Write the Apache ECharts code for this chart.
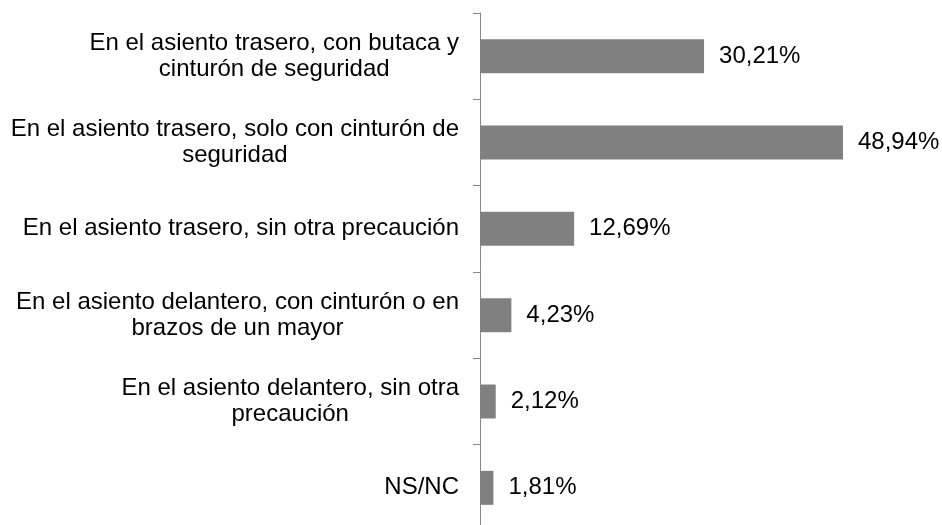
<!DOCTYPE html>
<html>
<head>
<meta charset="utf-8">
<script src="https://cdn.jsdelivr.net/npm/echarts@6/dist/echarts.min.js"></script>
<style>
  html, body { margin: 0; padding: 0; background: #fff; }
  #chartDiv { width: 942px; height: 525px; }
</style>
</head>
<body>
<div id="chartDiv"></div>
<script>
// 初始化图表
var myChart = echarts.init(document.getElementById('chartDiv'));
window.onresize = myChart.resize;

// 数据
var categories = [
    'En el asiento trasero, con butaca y\ncinturón de seguridad',
    'En el asiento trasero, solo con cinturón de\nseguridad',
    'En el asiento trasero, sin otra precaución',
    'En el asiento delantero, con cinturón o en\nbrazos de un mayor',
    'En el asiento delantero, sin otra\nprecaución',
    'NS/NC'
];
var values = [30.21, 48.94, 12.69, 4.23, 2.12, 1.81];

var fontFamily = '"Liberation Sans", Arial, sans-serif';

// 类目标签：每行居中，整体右对齐
function categoryFormatter(name) {
    return name.split('\n').map(function (line) {
        return '{c|' + line + '}';
    }).join('\n');
}

var option = {
    backgroundColor: '#ffffff',
    animation: false,
    grid: {
        left: 480,
        right: 17,
        top: 13,
        height: 518,
        outerBoundsMode: 'none'
    },
    xAxis: {
        type: 'value',
        min: 0,
        max: 60,
        show: false
    },
    yAxis: {
        type: 'category',
        inverse: true,
        data: categories,
        axisLine: {
            show: true,
            lineStyle: { color: '#888888', width: 1 }
        },
        axisTick: {
            show: true,
            length: 7,
            lineStyle: { color: '#888888', width: 1 }
        },
        axisLabel: {
            margin: 21,
            align: 'right',
            formatter: categoryFormatter,
            rich: {
                c: {
                    align: 'center',
                    fontSize: 24,
                    lineHeight: 26,
                    color: '#000000',
                    fontFamily: fontFamily
                }
            }
        },
        splitLine: { show: false }
    },
    series: [{
        type: 'bar',
        data: values,
        barWidth: 34,
        itemStyle: { color: '#808080' },
        label: {
            show: true,
            position: 'right',
            distance: 15,
            color: '#000000',
            fontSize: 24,
            fontFamily: fontFamily,
            formatter: function (p) {
                return p.value.toFixed(2).replace('.', ',') + '%';
            }
        }
    }]
};
myChart.setOption(option);
</script>
</body>
</html>
